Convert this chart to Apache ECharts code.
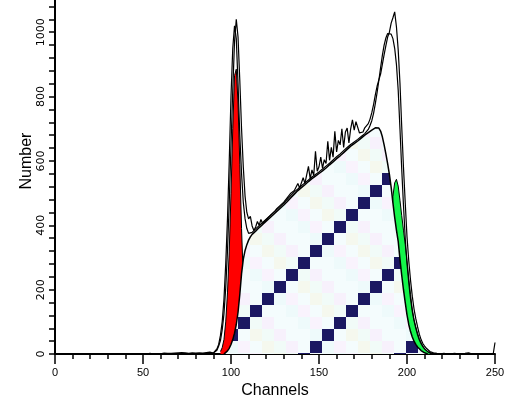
<!DOCTYPE html>
<html>
<head>
<meta charset="utf-8">
<script src="https://cdn.jsdelivr.net/npm/echarts@6/dist/echarts.min.js"></script>
<style>html,body{margin:0;padding:0;background:#fff}#c{width:509px;height:404px}</style>
</head>
<body>
<div id="c"></div>
<script>
// ---- DATA ----
const xTickLabels = [0, 50, 100, 150, 200, 250];
const yTickLabels = [0, 200, 400, 600, 800, 1000];
// raw histogram counts, channels 0..250
const histCounts = [
 0,0,1,0,0,1,0,0,1,0, 0,1,0,0,1,0,1,0,0,1, 0,1,1,0,0,1,0,1,0,0, 1,0,1,0,1,1,0,0,1,0,
 1,0,1,1,0,1,0,2,1,0, 1,2,0,1,2,1,0,2,1,2, 1,2,3,1,2,4,2,5,3,2, 4,3,5,2,4,3,2,3,4,2,
 3,2,4,3,3,4,5,4,6,8, 3,5,12,25,42,75,125,205,320,470, 650,820,970,1040,985,850,700,580,490,440,
 420,428,398,384,395,412,400,418,406,413, 418,423,428,434,440,444,452,456,462,466, 472,478,486,492,500,504,508,512,530,516,
 522,548,530,536,583,545,572,555,630,568, 582,612,578,604,592,661,602,642,612,692, 628,664,650,700,642,690,702,656,700,728,
 696,722,728,687,692,690,703,708,716,730, 750,775,805,832,852,870,900,930,958,985, 1000,1028,1045,1063,1017,945,842,707,580,470,
 365,290,230,180,140,110,85,62,45,33, 25,18,12,8,6,4,3,2,2,1, 1,2,1,0,1,1,0,2,1,1, 0,1,1,2,1,4,1,0,1,1,
 0,1,2,1,0,1,0,1,1,1, 36
];
// model fit total, channels 88..220
const fitStart = 88;
const fitValues = [
 2,3,4,8,16,30,58,100,170,280,420,600,800,950,1020,980,840,680,560,470,420,390,375,373,
 378,383,389,394,399,404,409,414,419,424,429,434,439,444,449,454,459,464,469,475,481,487,493,498,504,509,
 513,518,523,527,532,537,541,546,550,554,558,562,566,570,575,579,584,589,593,598,603,608,613,617,622,627,
 632,637,642,647,651,655,659,663,667,672,676,681,685,690,698,710,725,748,778,812,850,890,928,960,982,996,
 1000,994,980,950,900,820,700,575,462,360,282,222,172,133,103,80,60,44,32,23,16,11,7,5,3,2,1,0,0,0,0
];
// G1 peak (red), channels 94..113
const g1Start = 94;
const g1Values = [8,20,45,100,190,320,500,700,865,885,780,590,390,230,120,55,22,8,2,0];
// G2 peak (green), channels 188..214
const g2Start = 188;
const g2Values = [0,60,200,380,490,532,543,522,478,430,385,340,290,235,185,140,108,85,65,48,36,25,16,10,6,3,0];
// S phase (hatched), channels 96..212
const sStart = 96;
const sValues = [
 0,4,10,18,30,45,65,92,130,185,250,295,322,340,354,364,372,377,382,388,393,398,403,408,413,418,423,428,433,438,
 443,448,453,458,463,468,474,480,486,492,497,503,508,512,517,522,526,531,536,540,545,549,553,557,561,565,569,574,578,583,
 588,592,597,602,607,612,616,621,626,631,636,641,646,650,654,658,662,666,671,675,680,684,688,692,696,700,703,705,702,693,
 675,650,622,592,558,518,470,425,385,350,295,245,200,160,122,92,70,53,40,30,22,16,11,7,4,2,0
];

function pairs(start, vals){ return vals.map((v,i)=>[start+i, v]); }

// ---- S-phase pattern tile ----
const cell = 12, n = 8, ox = 9.5, oy = 4.7;
const tile = document.createElement('canvas');
tile.width = cell*n; tile.height = cell*n;
const ctx = tile.getContext('2d');
ctx.fillStyle = '#f4fcfd';
ctx.fillRect(0,0,tile.width,tile.height);
const tints = ['#f4fcfd','#f7f1fc','#eefafb','#f5f8ee','#f4fcfd','#f9f3fd','#f1fbf8','#f4fcfd'];
for (let i=0;i<n;i++){
  for (let j=0;j<n;j++){
    let col;
    if ((i+j)%n===5) col = '#1b1862';
    else col = tints[(i*3+j*5)%tints.length];
    ctx.fillStyle = col;
    const px = Math.round(ox + i*cell), py = Math.round(oy + j*cell);
    for (const dx of [0,-tile.width]) for (const dy of [0,-tile.height])
      ctx.fillRect(px+dx, py+dy, cell, cell);
  }
}

const tickVals = [];
for (let v=0; v<=1080; v+=40) tickVals.push(v);

const chart = echarts.init(document.getElementById('c'), null, {renderer:'canvas'});
chart.setOption({
  animation:false,
  backgroundColor:'#fff',
  grid:{left:55,right:14,top:0,bottom:49},
  xAxis:{
    type:'value', min:0, max:250, interval:50,
    name:'Channels', nameLocation:'middle', nameGap:25,
    nameTextStyle:{fontFamily:'Liberation Sans', fontSize:16, color:'#000'},
    axisLine:{lineStyle:{color:'#000', width:2}},
    axisTick:{length:10, lineStyle:{color:'#000', width:1.5}},
    minorTick:{show:true, splitNumber:5, length:5, lineStyle:{color:'#000', width:1.5}},
    splitLine:{show:false},
    axisLabel:{color:'#000', fontFamily:'Liberation Sans', fontSize:11, margin:13,
      customValues:xTickLabels, formatter:(v)=>String(v)}
  },
  yAxis:{
    type:'value', min:0, max:1100,
    axisLine:{show:true, lineStyle:{color:'#000', width:2}},
    axisTick:{show:true, length:6, lineStyle:{color:'#000', width:1.5}, customValues:tickVals},
    splitLine:{show:false},
    axisLabel:{color:'#000', fontFamily:'DejaVu Sans', fontSize:11, rotate:90, margin:8,
      customValues:yTickLabels, formatter:(v)=>String(v)}
  },
  graphic:[{
    type:'text', x:27, y:161, rotation:Math.PI/2,
    style:{text:'Number', font:'16px "Liberation Sans"', fill:'#000',
      textAlign:'center', textVerticalAlign:'middle', align:'center', verticalAlign:'middle'}
  }],
  series:[
    {type:'line', data:pairs(g1Start,g1Values), showSymbol:false, silent:true, z:2,
      lineStyle:{color:'#000', width:1}, areaStyle:{color:'#ff0000', opacity:1}},
    {type:'line', data:pairs(g2Start,g2Values), showSymbol:false, silent:true, z:2,
      lineStyle:{color:'#000', width:1}, areaStyle:{color:'#14f54a', opacity:1}},
    {type:'line', data:pairs(sStart,sValues), showSymbol:false, silent:true, z:3,
      lineStyle:{color:'#000', width:1.5}, areaStyle:{color:{image:tile, repeat:'repeat'}, opacity:1}},
    {type:'line', data:pairs(fitStart,fitValues), showSymbol:false, silent:true, z:4,
      lineStyle:{color:'#000', width:1.2}},
    {type:'line', data:pairs(0,histCounts), showSymbol:false, silent:true, z:4,
      lineStyle:{color:'#000', width:1.2}}
  ]
});
</script>
</body>
</html>
